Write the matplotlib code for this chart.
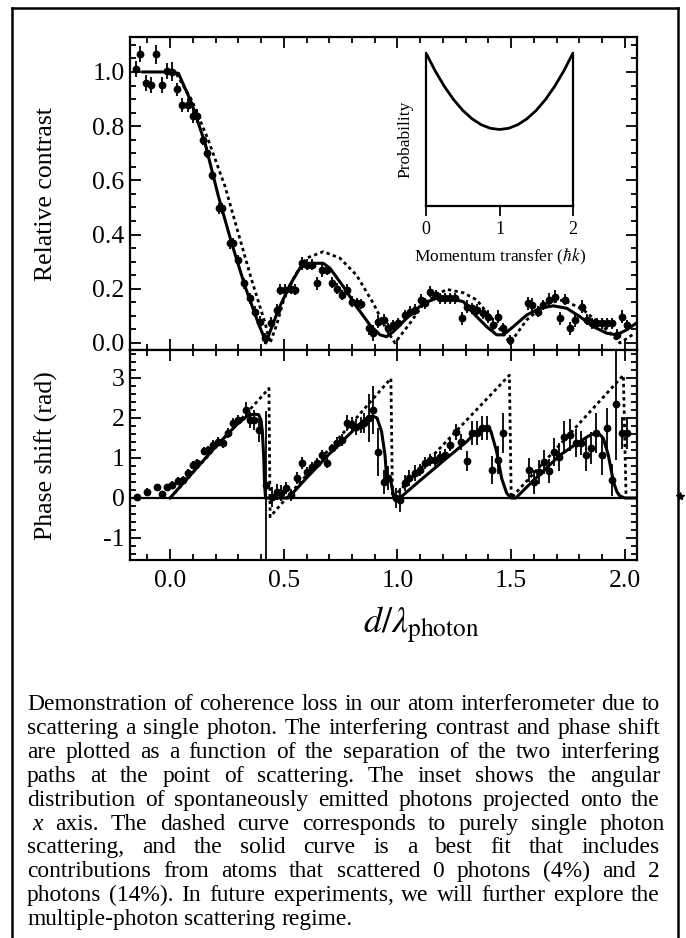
import numpy as np
import matplotlib
matplotlib.use('Agg')
import matplotlib.pyplot as plt
from matplotlib.lines import Line2D
from matplotlib.ticker import MultipleLocator

plt.rcParams['font.family'] = ['Liberation Serif', 'DejaVu Serif']
plt.rcParams['mathtext.fontset'] = 'stix'

# ---- contrast data (top panel) ----
contrast_d = [-0.149, -0.132, -0.107, -0.083, -0.062, -0.037, -0.015, 0.007, 0.029, 0.054,
              0.078, 0.103, 0.117, 0.144, 0.161, 0.186, 0.215, 0.230, 0.264, 0.278,
              0.300, 0.327, 0.352, 0.374, 0.396, 0.418, 0.443, 0.469, 0.484, 0.505,
              0.530, 0.550, 0.579, 0.604, 0.623, 0.645, 0.670, 0.689, 0.710, 0.733,
              0.757, 0.777, 0.798, 0.820, 0.838, 0.875, 0.894, 0.916, 0.941, 0.960,
              0.982, 1.003, 1.033, 1.055, 1.077, 1.102, 1.121, 1.143, 1.168, 1.187,
              1.209, 1.231, 1.253, 1.282, 1.304, 1.326, 1.348, 1.377, 1.399, 1.421,
              1.443, 1.465, 1.495, 1.575, 1.590, 1.619, 1.641, 1.667, 1.692, 1.714,
              1.736, 1.758, 1.780, 1.810, 1.832, 1.854, 1.875, 1.897, 1.920, 1.942,
              1.963, 1.988, 2.007]
contrast_val = [1.010, 1.066, 0.958, 0.952, 1.066, 0.952, 1.004, 1.000, 0.936, 0.878,
                0.878, 0.838, 0.838, 0.749, 0.702, 0.620, 0.497, 0.497, 0.368, 0.368,
                0.306, 0.220, 0.165, 0.116, 0.079, 0.017, 0.075, 0.122, 0.196, 0.196,
                0.200, 0.196, 0.294, 0.288, 0.288, 0.220, 0.269, 0.269, 0.222, 0.200,
                0.177, 0.196, 0.152, 0.146, 0.144, 0.054, 0.036, 0.079, 0.085, 0.054,
                0.066, 0.073, 0.103, 0.116, 0.122, 0.159, 0.146, 0.189, 0.177, 0.165,
                0.165, 0.165, 0.165, 0.091, 0.134, 0.128, 0.122, 0.110, 0.097, 0.066,
                0.097, 0.054, 0.011, 0.146, 0.140, 0.116, 0.140, 0.159, 0.171, 0.091,
                0.159, 0.054, 0.085, 0.134, 0.085, 0.073, 0.073, 0.073, 0.073, 0.073,
                0.030, 0.097, 0.066]
contrast_err = [0.030, 0.030, 0.030, 0.030, 0.035, 0.030, 0.030, 0.035, 0.025, 0.025,
                0.025, 0.025, 0.025, 0.020, 0.020, 0.020, 0.020, 0.020, 0.020, 0.020,
                0.020, 0.020, 0.020, 0.020, 0.020, 0.020, 0.020, 0.020, 0.020, 0.020,
                0.020, 0.020, 0.025, 0.020, 0.020, 0.025, 0.025, 0.020, 0.020, 0.020,
                0.020, 0.020, 0.020, 0.020, 0.020, 0.025, 0.030, 0.025, 0.020, 0.020,
                0.020, 0.020, 0.020, 0.020, 0.020, 0.020, 0.020, 0.020, 0.020, 0.020,
                0.020, 0.020, 0.020, 0.025, 0.025, 0.020, 0.020, 0.020, 0.025, 0.025,
                0.025, 0.020, 0.020, 0.025, 0.025, 0.020, 0.020, 0.025, 0.025, 0.025,
                0.020, 0.025, 0.025, 0.025, 0.020, 0.020, 0.020, 0.020, 0.020, 0.020,
                0.020, 0.025, 0.020]

# fit (solid) and single-photon (dashed) contrast curves
fit_c_d = [-0.12, 0.0, 0.037, 0.095, 0.154, 0.213, 0.271, 0.330, 0.388, 0.418, 0.421,
           0.476, 0.527, 0.571, 0.615, 0.674, 0.703, 0.762, 0.820, 0.879, 0.923, 0.952,
           0.982, 1.040, 1.113, 1.172, 1.231, 1.290, 1.333, 1.392, 1.436, 1.465, 1.509,
           1.568, 1.626, 1.685, 1.744, 1.802, 1.861, 1.920, 1.963, 2.007, 2.050]
fit_c_val = [1.0, 1.0, 0.995, 0.885, 0.737, 0.540, 0.368, 0.208, 0.073, 0.011, 0.0,
             0.122, 0.214, 0.276, 0.294, 0.294, 0.276, 0.208, 0.134, 0.066, 0.030, 0.023,
             0.042, 0.091, 0.146, 0.165, 0.165, 0.152, 0.110, 0.060, 0.030, 0.030, 0.060,
             0.103, 0.128, 0.137, 0.128, 0.097, 0.060, 0.036, 0.030, 0.048, 0.073]
single_c_d = [0.0, 0.030, 0.095, 0.168, 0.242, 0.300, 0.359, 0.418, 0.440, 0.470, 0.500,
              0.550, 0.600, 0.674, 0.747, 0.820, 0.894, 0.952, 0.989, 1.055, 1.120,
              1.216, 1.290, 1.348, 1.420, 1.495, 1.568, 1.656, 1.730, 1.817, 1.905,
              1.978, 2.044]
single_c_val = [1.0, 0.990, 0.897, 0.749, 0.577, 0.405, 0.232, 0.073, 0.0, 0.070, 0.160,
                0.250, 0.313, 0.337, 0.313, 0.250, 0.146, 0.048, 0.0, 0.073, 0.150,
                0.198, 0.185, 0.159, 0.085, 0.0, 0.085, 0.146, 0.159, 0.122, 0.060,
                0.0, 0.036]

# ---- phase data (bottom panel) ----
phase_d = [-0.147, -0.103, -0.059, -0.037, -0.015, 0.007, 0.037, 0.059, 0.078, 0.103,
           0.117, 0.149, 0.168, 0.190, 0.213, 0.234, 0.257, 0.278, 0.300, 0.333,
           0.352, 0.370, 0.393, 0.422, 0.447, 0.469, 0.488, 0.510, 0.532, 0.557,
           0.579, 0.600, 0.623, 0.645, 0.667, 0.691, 0.710, 0.733, 0.755, 0.780,
           0.798, 0.818, 0.838, 0.853, 0.875, 0.894, 0.916, 0.941, 0.960, 0.993,
           1.011, 1.033, 1.052, 1.077, 1.099, 1.121, 1.143, 1.165, 1.187, 1.209,
           1.231, 1.257, 1.280, 1.304, 1.326, 1.348, 1.370, 1.392, 1.417, 1.440,
           1.462, 1.580, 1.600, 1.622, 1.644, 1.667, 1.689, 1.711, 1.733, 1.758,
           1.783, 1.805, 1.829, 1.851, 1.873, 1.897, 1.920, 1.944, 1.961, 1.985,
           2.007]
phase_val = [0.03, 0.16, 0.28, 0.09, 0.28, 0.32, 0.42, 0.45, 0.62, 0.82,
             0.87, 1.18, 1.20, 1.33, 1.41, 1.37, 1.62, 1.87, 1.95, 2.20,
             1.95, 1.95, 1.70, 0.32, 0.03, 0.16, 0.12, 0.24, 0.07, 0.49,
             0.87, 0.66, 0.78, 0.87, 1.07, 0.87, 1.24, 1.37, 1.45, 1.87,
             1.82, 1.78, 1.82, 1.87, 2.00, 2.20, 1.16, 0.41, 0.49, -0.01,
             -0.05, 0.37, 0.49, 0.62, 0.70, 0.87, 0.95, 0.95, 1.03, 1.07,
             1.32, 1.66, 1.41, 0.92, 1.62, 1.62, 1.74, 1.74, 0.70, 0.95,
             1.62, 0.70, 0.41, 0.66, 0.91, 0.68, 1.16, 1.03, 1.53, 1.58,
             1.37, 1.37, 1.07, 1.24, 1.62, 1.07, 1.74, 0.45, 2.34, 1.62,
             1.62]
phase_err = [0.08, 0.08, 0.08, 0.08, 0.08, 0.10, 0.10, 0.10, 0.10, 0.10,
             0.10, 0.10, 0.10, 0.12, 0.12, 0.12, 0.12, 0.12, 0.12, 0.20,
             0.20, 0.25, 0.30, 1.85, 0.25, 0.20, 0.20, 0.15, 0.15, 0.15,
             0.15, 0.12, 0.12, 0.12, 0.12, 0.12, 0.12, 0.15, 0.15, 0.20,
             0.20, 0.20, 0.20, 0.25, 0.60, 0.60, 0.60, 0.30, 0.30, 0.25,
             0.30, 0.20, 0.20, 0.20, 0.15, 0.15, 0.15, 0.15, 0.15, 0.15,
             0.15, 0.20, 0.20, 0.25, 0.30, 0.30, 0.30, 0.30, 0.35, 0.35,
             0.50, 0.30, 0.30, 0.30, 0.30, 0.30, 0.35, 0.35, 0.40, 0.40,
             0.35, 0.30, 0.40, 0.40, 0.50, 0.50, 0.50, 0.40, 1.40, 0.40,
             0.40]

fit_p_d = [0.0, 0.05, 0.10, 0.15, 0.20, 0.25, 0.30, 0.34, 0.37, 0.39, 0.40, 0.406,
           0.412, 0.416, 0.420, 0.520, 0.60, 0.70, 0.80, 0.86, 0.89, 0.91, 0.93,
           0.945, 0.952, 0.96, 0.97, 0.978, 0.985, 1.01, 1.10, 1.20, 1.304, 1.35,
           1.385, 1.41, 1.436, 1.458, 1.48, 1.50, 1.52, 1.60, 1.714, 1.788, 1.84,
           1.868, 1.89, 1.905, 1.927, 1.949, 1.965, 1.978, 2.00, 2.06]
fit_p_val = [0.0, 0.32, 0.64, 0.96, 1.28, 1.58, 1.87, 2.05, 2.10, 2.08, 1.95, 1.65,
             1.00, 0.30, 0.0, 0.0, 0.50, 1.10, 1.66, 1.98, 2.05, 2.00, 1.66,
             1.08, 0.53, 0.49, 0.45, 0.20, 0.02, 0.0, 0.44, 0.92, 1.41, 1.68,
             1.78, 1.68, 1.16, 0.49, 0.12, 0.0, 0.0, 0.45, 1.07, 1.36, 1.55,
             1.62, 1.58, 1.49, 1.07, 0.41, 0.15, 0.05, 0.0, 0.0]
single_p_d = [0.0, 0.435, 0.440, 0.971, 0.978, 1.492, 1.500, 1.993, 2.005]
single_p_val = [0.0, 2.74, -0.47, 2.99, 0.0, 3.07, 0.0, 3.07, 0.0]

# ---- inset: angular distribution ----
inset_k = [0.0, 0.125, 0.25, 0.375, 0.5, 0.625, 0.75, 0.875, 1.0,
           1.125, 1.25, 1.375, 1.5, 1.625, 1.75, 1.875, 2.0]
inset_p = [2.0, 1.766, 1.563, 1.391, 1.25, 1.141, 1.063, 1.016, 1.0,
           1.016, 1.063, 1.141, 1.25, 1.391, 1.563, 1.766, 2.0]

caption_lines = [
    "Demonstration of coherence loss in our atom interferometer due to",
    "scattering a single photon.  The interfering contrast and phase shift",
    "are plotted as a function of the separation of the two interfering",
    "paths at the point of scattering.  The inset shows the angular",
    "distribution of spontaneously emitted photons projected onto the",
    "x axis.  The dashed curve corresponds to purely single photon",
    "scattering, and the solid curve is a best fit that includes",
    "contributions from atoms that scattered 0 photons (4%) and 2",
    "photons (14%).  In future experiments, we will further explore the",
    "multiple-photon scattering regime.",
]

W, H = 686, 938
fig = plt.figure(figsize=(W / 100, H / 100), dpi=100)


def px_box(left, top, right, bottom):
    return [left / W, 1 - bottom / H, (right - left) / W, (bottom - top) / H]


def style_axes(ax):
    for s in ax.spines.values():
        s.set_linewidth(1.6)
    ax.tick_params(which='both', direction='in', top=True, right=True,
                   width=1.3, labelsize=18.5)
    ax.tick_params(which='major', length=8)
    ax.tick_params(which='minor', length=4)
    ax.tick_params(axis='y', pad=4)
    ax.tick_params(axis='x', pad=7)


ax1 = fig.add_axes(px_box(130, 37, 637, 350))
ax2 = fig.add_axes(px_box(130, 350, 637, 560), sharex=ax1)

eb_kw = dict(fmt='o', color='black', ms=4.6, elinewidth=1.3, capsize=0)

# top panel
ax1.errorbar(contrast_d, contrast_val, yerr=contrast_err, xerr=0.012, **eb_kw)
ax1.plot(fit_c_d, fit_c_val, color='black', lw=2.2)
ax1.plot(single_c_d, single_c_val, color='black', lw=2.0, linestyle=(0, (1.2, 1.2)))
ax1.set_xlim(-0.176, 2.053)
ax1.set_ylim(-0.026, 1.129)
ax1.xaxis.set_major_locator(MultipleLocator(0.5))
ax1.xaxis.set_minor_locator(MultipleLocator(0.1))
ax1.yaxis.set_major_locator(MultipleLocator(0.2))
ax1.yaxis.set_minor_locator(MultipleLocator(0.05))
ax1.set_yticks([0.0, 0.2, 0.4, 0.6, 0.8, 1.0])
ax1.set_yticklabels(['0.0', '0.2', '0.4', '0.6', '0.8', '1.0'])
style_axes(ax1)
ax1.tick_params(axis='x', labelbottom=False)

# bottom panel
ax2.axhline(0, color='black', lw=1.6)
ax2.errorbar(phase_d, phase_val, yerr=phase_err, xerr=0.012, **eb_kw)
ax2.plot(fit_p_d, fit_p_val, color='black', lw=2.2)
ax2.plot(single_p_d, single_p_val, color='black', lw=2.0, linestyle=(0, (1.2, 1.2)))
ax2.set_ylim(-1.55, 3.7)
ax2.yaxis.set_major_locator(MultipleLocator(1))
ax2.yaxis.set_minor_locator(MultipleLocator(0.2))
ax2.set_xticks([0.0, 0.5, 1.0, 1.5, 2.0])
ax2.set_xticklabels(['0.0', '0.5', '1.0', '1.5', '2.0'])
ax2.set_yticks([-1, 0, 1, 2, 3])
ax2.set_yticklabels(['-1', '0', '1', '2', '3'])
style_axes(ax2)
ax2.set_xlim(-0.176, 2.053)

fig.text(46 / W, 1 - 194 / H, 'Relative contrast', rotation=90, fontsize=18.5,
         ha='center', va='center')
fig.text(46 / W, 1 - 456 / H, 'Phase shift (rad)', rotation=90, fontsize=18.5,
         ha='center', va='center')
fig.text(421 / W, 1 - 633 / H, r'$d/\lambda_{\mathrm{photon}}$', fontsize=26,
         ha='center', va='baseline')

# inset
ax_in = fig.add_axes(px_box(426, 53, 573, 206))
ax_in.plot(inset_k, inset_p, color='black', lw=2.0)
ax_in.set_xlim(0, 2)
ax_in.set_ylim(0, 2.0)
ax_in.spines['top'].set_visible(False)
for s in ['left', 'right', 'bottom']:
    ax_in.spines[s].set_linewidth(1.6)
ax_in.set_yticks([])
ax_in.set_xticks([0, 1, 2])
ax_in.tick_params(axis='x', direction='out', length=7, width=1.3, labelsize=13, pad=4)
ax_in.patch.set_alpha(0)
fig.text(500 / W, 1 - 257 / H, r'Momentum transfer ($\hbar k$)', fontsize=12.5,
         ha='center', va='center')
fig.text(405 / W, 1 - 139 / H, 'Probability', rotation=90, fontsize=12.5,
         ha='center', va='center')

# outer frame
frame_kw = dict(color='black', lw=1.8, transform=fig.transFigure)
fig.add_artist(Line2D([12 / W, 678 / W], [1 - 8 / H, 1 - 8 / H], **frame_kw))
fig.add_artist(Line2D([12 / W, 12 / W], [1 - 8 / H, 0], **frame_kw))
fig.add_artist(Line2D([678 / W, 678 / W], [1 - 8 / H, 0], **frame_kw))
fig.add_artist(Line2D([680 / W], [1 - 496 / H], marker='*', ms=6, color='black',
                      transform=fig.transFigure))

# caption, justified word by word; font size scaled so the widest line fits
renderer = fig.canvas.get_renderer()
x_left, x_right = 27, 660
probe = [fig.text(0, 0, ln, fontsize=16) for ln in caption_lines[:-1]]
widest = max(t.get_window_extent(renderer).width for t in probe)
for t in probe:
    t.remove()
fs = 16 * (x_right - x_left) / widest * 0.99
for i, line in enumerate(caption_lines):
    y = 1 - (710 + 23.9 * i) / H
    words = line.split()
    texts = [fig.text(0, y, w, fontsize=fs, va='baseline',
                      style='italic' if w == 'x' else 'normal') for w in words]
    widths = [t.get_window_extent(renderer).width for t in texts]
    if i == len(caption_lines) - 1:
        gap = 0.25 * fs * 100 / 72
    else:
        gap = (x_right - x_left - sum(widths)) / (len(words) - 1)
    x = x_left + (5 if words[0] == 'x' else 0)
    for t, w in zip(texts, widths):
        t.set_x(x / W)
        x += w + gap

fig.savefig('out.png', dpi=100)
